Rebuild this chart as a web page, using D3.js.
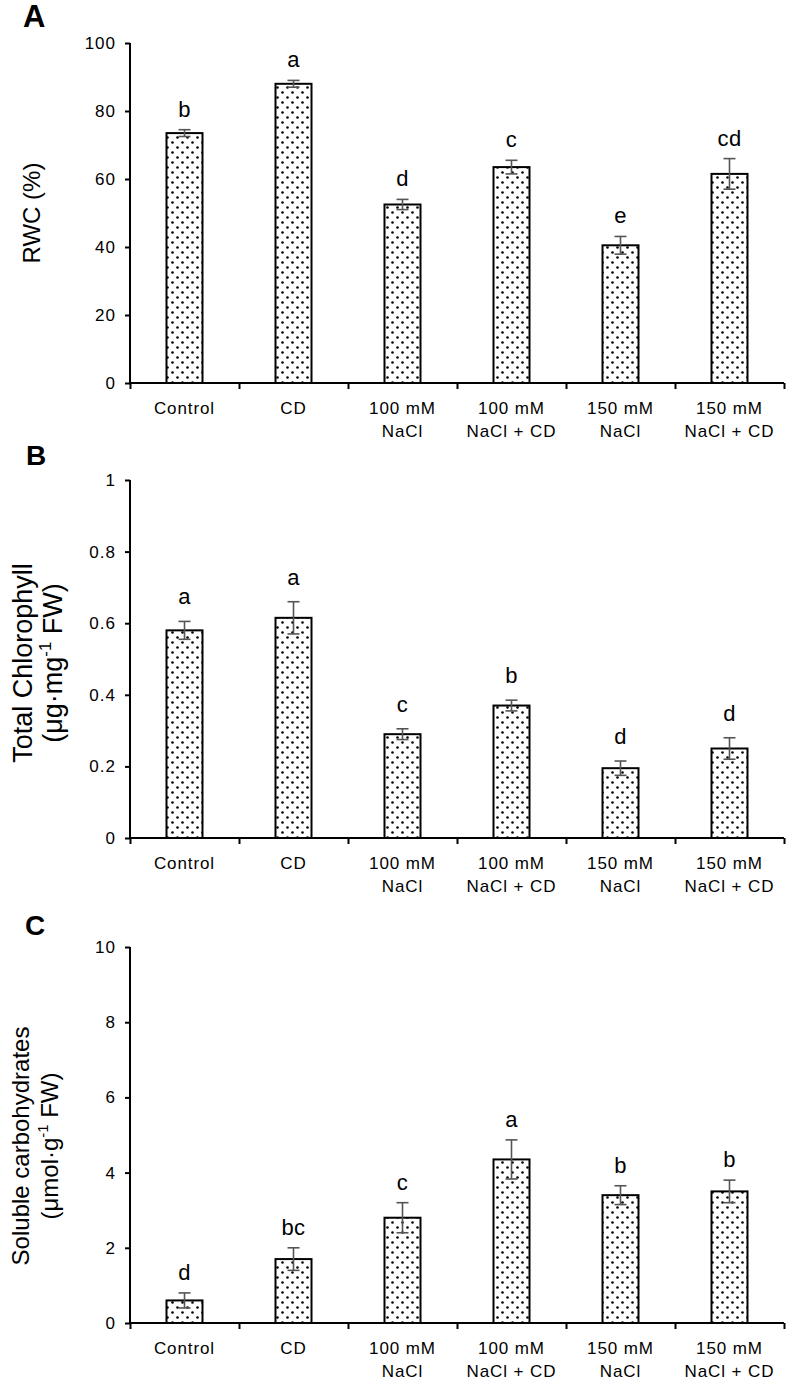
<!DOCTYPE html>
<html><head><meta charset="utf-8">
<script src="https://cdn.jsdelivr.net/npm/d3@7"></script>
<style>
body{margin:0;background:#fff;}
svg{display:block;font-family:"Liberation Sans",Arial,sans-serif;}
</style></head>
<body><svg id="chart" width="787" height="1392"></svg>
<script>
const categories = [["Control"],["CD"],["100 mM","NaCl"],["100 mM","NaCl + CD"],["150 mM","NaCl"],["150 mM","NaCl + CD"]];
const rwcValues = [73.5, 88, 52.5, 63.5, 40.5, 61.5];
const rwcErrors = [1, 1, 1.5, 2, 2.6, 4.5];
const rwcLetters = ["b","a","d","c","e","cd"];
const rwcTicks = [0,20,40,60,80,100];
const chlValues = [0.58, 0.615, 0.29, 0.37, 0.195, 0.25];
const chlErrors = [0.025, 0.045, 0.015, 0.015, 0.02, 0.03];
const chlLetters = ["a","a","c","b","d","d"];
const chlTicks = [0,0.2,0.4,0.6,0.8,1];
const carbValues = [0.6, 1.7, 2.8, 4.35, 3.4, 3.5];
const carbErrors = [0.2, 0.3, 0.4, 0.52, 0.25, 0.3];
const carbLetters = ["d","bc","c","a","b","b"];
const carbTicks = [0,2,4,6,8,10];

const svg = d3.select("#chart");
const defs = svg.append("defs");
const pat = defs.append("pattern").attr("id","dots").attr("patternUnits","userSpaceOnUse")
  .attr("width",10).attr("height",10);
pat.append("rect").attr("width",10).attr("height",10).attr("fill","#fff");
pat.append("circle").attr("cx",2.5).attr("cy",2.5).attr("r",1.3).attr("fill","#000");
pat.append("circle").attr("cx",7.5).attr("cy",7.5).attr("r",1.3).attr("fill","#000");

const X0 = 130, X1 = 784;
const x = d3.scaleBand().domain(d3.range(categories.length)).range([X0, X1]).padding(0);
const barW = 36;

function panel(opts){
  const y = d3.scaleLinear().domain([0, opts.max]).range([opts.yBottom, opts.yTop]);
  const g = svg.append("g");
  g.selectAll("rect.bar").data(opts.values).join("rect").attr("class","bar")
    .attr("x",(d,i)=>x(i)+x.bandwidth()/2-barW/2).attr("width",barW)
    .attr("y",d=>y(d)).attr("height",d=>opts.yBottom-y(d))
    .attr("fill","url(#dots)").attr("stroke","#000").attr("stroke-width",2);
  const eg = g.selectAll("g.err").data(opts.values).join("g").attr("class","err")
    .attr("stroke","#555").attr("stroke-width",1.6);
  eg.append("line").attr("x1",(d,i)=>x(i)+x.bandwidth()/2).attr("x2",(d,i)=>x(i)+x.bandwidth()/2)
    .attr("y1",(d,i)=>y(d-opts.errors[i])).attr("y2",(d,i)=>y(d+opts.errors[i]));
  eg.append("line").attr("x1",(d,i)=>x(i)+x.bandwidth()/2-6).attr("x2",(d,i)=>x(i)+x.bandwidth()/2+6)
    .attr("y1",(d,i)=>y(d+opts.errors[i])).attr("y2",(d,i)=>y(d+opts.errors[i]));
  eg.append("line").attr("x1",(d,i)=>x(i)+x.bandwidth()/2-6).attr("x2",(d,i)=>x(i)+x.bandwidth()/2+6)
    .attr("y1",(d,i)=>y(d-opts.errors[i])).attr("y2",(d,i)=>y(d-opts.errors[i]));
  g.selectAll("text.sig").data(opts.letters).join("text").attr("class","sig")
    .attr("x",(d,i)=>x(i)+x.bandwidth()/2).attr("y",(d,i)=>y(opts.values[i]+opts.errors[i])-opts.gap)
    .attr("text-anchor","middle").attr("font-size",22).attr("letter-spacing",0.5).text(d=>d);
  const ya = g.append("g").attr("transform",`translate(${X0},0)`)
    .call(d3.axisLeft(y).tickValues(opts.ticks).tickSize(5).tickPadding(9).tickSizeOuter(0).tickFormat(d3.format("~g")));
  ya.select(".domain").attr("stroke","#000").attr("stroke-width",2).attr("d",`M0,${opts.yTop}V${opts.yBottom}`);
  ya.selectAll(".tick line").attr("stroke","#000").attr("stroke-width",2);
  ya.selectAll(".tick text").attr("font-size",17).attr("letter-spacing",1).attr("fill","#000")
    .attr("font-family","'Liberation Sans',Arial,sans-serif");
  const xb = d3.scaleLinear().domain([0,categories.length]).range([X0,X1]);
  const xa = g.append("g").attr("transform",`translate(0,${opts.yBottom})`)
    .call(d3.axisBottom(xb).tickValues(d3.range(categories.length+1)).tickSize(6).tickFormat(""));
  xa.select(".domain").attr("stroke","#000").attr("stroke-width",2).attr("d",`M${X0},0H${X1}`);
  xa.selectAll(".tick line").attr("stroke","#000").attr("stroke-width",2);
  const cl = g.selectAll("text.cat").data(categories).join("text").attr("class","cat")
    .attr("text-anchor","middle").attr("font-size",17).attr("letter-spacing",0.9)
    .attr("y",opts.yBottom+31);
  cl.selectAll("tspan").data((d,i)=>d.map(s=>({s,i}))).join("tspan")
    .attr("x",d=>x(d.i)+x.bandwidth()/2).attr("dy",(d,j)=>j===0?0:23).text(d=>d.s);
  svg.append("text").attr("x",opts.letterX).attr("y",opts.letterY).attr("font-size",opts.letterSize)
    .attr("font-weight","bold").text(opts.letter);
  const tl = svg.append("text").attr("transform","rotate(-90)").attr("text-anchor","middle").attr("font-size",opts.titleSize);
  opts.title.forEach((line,k)=>{
    const t = tl.append("tspan").attr("x",-opts.titleCy).attr("y",opts.titleX[k]);
    line.forEach(part=>{
      const s = t.append("tspan").text(part.t);
      if(part.sup) s.attr("font-size",opts.titleSize*0.62).attr("dy",-opts.titleSize*0.4);
      if(part.after) s.attr("dy",opts.titleSize*0.4);
    });
  });
}

panel({values:rwcValues, errors:rwcErrors, letters:rwcLetters, ticks:rwcTicks, max:100,
  yTop:43, yBottom:383, gap:13, letter:"A", letterX:23, letterY:27, letterSize:31,
  title:[[{t:"RWC (%)"}]], titleCy:213, titleX:[40], titleSize:24});
panel({values:chlValues, errors:chlErrors, letters:chlLetters, ticks:chlTicks, max:1,
  yTop:480, yBottom:838, gap:17, letter:"B", letterX:26, letterY:465, letterSize:28,
  title:[[{t:"Total Chlorophyll"}],[{t:"(μg·mg"},{t:"-1",sup:true},{t:" FW)",after:true}]],
  titleCy:663, titleX:[32,62], titleSize:27});
panel({values:carbValues, errors:carbErrors, letters:carbLetters, ticks:carbTicks, max:10,
  yTop:947, yBottom:1323, gap:13, letter:"C", letterX:25, letterY:935, letterSize:28,
  title:[[{t:"Soluble carbohydrates"}],[{t:"(μmol·g"},{t:"-1",sup:true},{t:" FW)",after:true}]],
  titleCy:1146, titleX:[29,58], titleSize:24});
</script></body></html>
